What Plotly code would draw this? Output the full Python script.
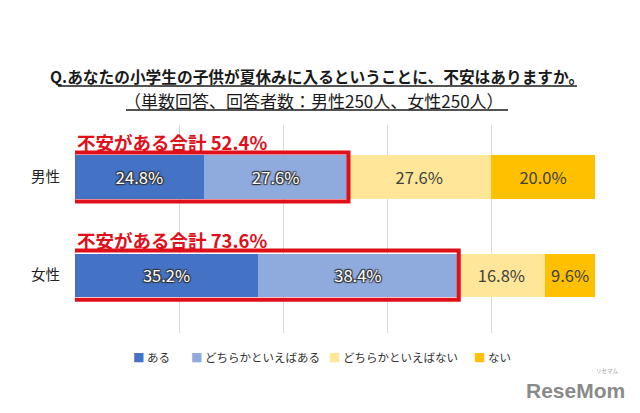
import plotly.graph_objects as go

categories = ["男性", "女性"]
series_names = ["ある", "どちらかといえばある", "どちらかといえばない", "ない"]
values_aru = [24.8, 35.2]
values_dochira_aru = [27.6, 38.4]
values_dochira_nai = [27.6, 16.8]
values_nai = [20.0, 9.6]
series_values = [values_aru, values_dochira_aru, values_dochira_nai, values_nai]
colors = ["#4472C4", "#8FAADC", "#FFE699", "#FFC000"]
title_text = "Q.あなたの小学生の子供が夏休みに入るということに、不安はありますか。"
subtitle_text = "（単数回答、回答者数：男性250人、女性250人）"
total_label = "不安がある合計"

FONT = "Noto Sans CJK JP, Noto Sans, sans-serif"
W, H = 640, 413
L, R, T, B = 75, 45, 125, 80
PW, PH = W - L - R, H - T - B


def px(x):
    return (x - L) / PW


def py(y):
    return (H - B - y) / PH


fig = go.Figure()
for i, (name, vals, col) in enumerate(zip(series_names, series_values, colors)):
    dark = i < 2
    fig.add_trace(go.Bar(
        y=categories, x=vals, name=name, orientation="h",
        marker=dict(color=col, line=dict(width=0)),
        text=[f"{v:.1f}%" for v in vals],
        textposition="inside", insidetextanchor="middle",
        textfont=dict(family=FONT, size=16.5,
                      color="white" if dark else "#404040",
                      shadow=("1px 1px 1px #333, -1px -1px 1px #333, "
                              "1px -1px 1px #333, -1px 1px 1px #333") if dark else "none"),
        width=0.44, showlegend=False,
    ))

shapes = []
annotations = []
for idx, cat in enumerate(categories):
    total = values_aru[idx] + values_dochira_aru[idx]
    shapes.append(dict(type="rect", xref="x", yref="y",
                       x0=-0.35, x1=total + 0.2, y0=idx - 0.25, y1=idx + 0.25,
                       line=dict(color="#E0101A", width=4), fillcolor="rgba(0,0,0,0)",
                       layer="above"))
    annotations.append(dict(xref="x", yref="y", x=0.0, y=idx - 0.36,
                            text=f"<b>{total_label} {total:.1f}%</b>",
                            showarrow=False, xanchor="left", yanchor="middle",
                            font=dict(family=FONT, size=18.5, color="#E0101A")))

annotations.append(dict(xref="paper", yref="paper", x=px(317), y=py(77),
                        text=f"<b>{title_text}</b>", showarrow=False,
                        xanchor="center", yanchor="middle",
                        font=dict(family=FONT, size=15.7, color="#1a1a1a")))
annotations.append(dict(xref="paper", yref="paper", x=px(314), y=py(100),
                        text=subtitle_text, showarrow=False,
                        xanchor="center", yanchor="middle",
                        font=dict(family=FONT, size=17, color="#1a1a1a")))
annotations.append(dict(xref="paper", yref="paper", x=px(627), y=py(390),
                        text="<b>ReseMom</b>", showarrow=False,
                        xanchor="right", yanchor="middle",
                        font=dict(family="Liberation Sans, Arial, sans-serif", size=21, color="#8a8a8a")))
annotations.append(dict(xref="paper", yref="paper", x=px(621), y=py(371),
                        text="リセマム", showarrow=False,
                        xanchor="right", yanchor="middle",
                        font=dict(family=FONT, size=5.5, color="#a0a0a0")))

# custom legend (square + label), laid out like the original
legend_x = [131, 189, 327, 472]
for name, col, lx in zip(series_names, colors, legend_x):
    annotations.append(dict(xref="paper", yref="paper", x=px(lx), y=py(357),
                            text=f"<span style='color:{col}'>■</span> {name}",
                            showarrow=False, xanchor="left", yanchor="middle",
                            font=dict(family=FONT, size=11.5, color="#333")))

# underlines for title and subtitle
shapes.append(dict(type="line", xref="paper", yref="paper",
                   x0=px(58), x1=px(577), y0=py(86), y1=py(86),
                   line=dict(color="#1a1a1a", width=1.3)))
shapes.append(dict(type="line", xref="paper", yref="paper",
                   x0=px(126), x1=px(508), y0=py(110), y1=py(110),
                   line=dict(color="#1a1a1a", width=1.3)))

fig.update_layout(
    width=W, height=H,
    margin=dict(l=L, r=R, t=T, b=B, pad=0, autoexpand=False),
    barmode="stack",
    plot_bgcolor="white", paper_bgcolor="white",
    font=dict(family=FONT, size=13, color="#222"),
    xaxis=dict(range=[0, 100], showgrid=True, gridcolor="#D9D9D9", gridwidth=1,
               dtick=20, showticklabels=False, zeroline=False, showline=False,
               ticks="", automargin=False),
    yaxis=dict(categoryorder="array", categoryarray=categories,
               range=[1.59, -0.53], showgrid=False, zeroline=False,
               showline=False, ticks="", ticklen=0, automargin=False,
               tickfont=dict(family=FONT, size=14.5, color="#222"), ticklabelstandoff=14),
    shapes=shapes, annotations=annotations,
    showlegend=False, bargap=0.5,
)

fig.write_html("out.html", config={"displayModeBar": False},
               post_script="document.body.style.margin='0px';")
